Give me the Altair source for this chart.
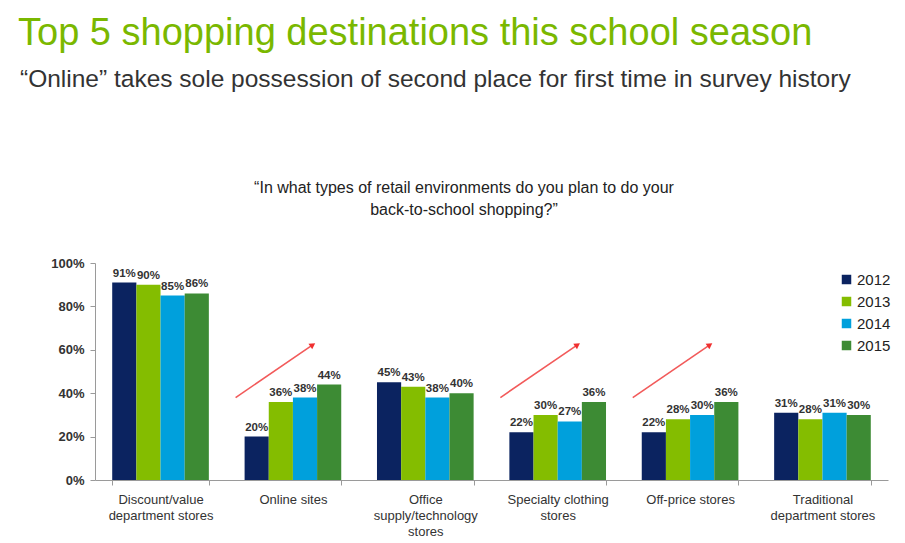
import altair as alt
import pandas as pd

categories = ["Discount/value|department stores", "Online sites", "Office|supply/technology|stores",
              "Specialty clothing|stores", "Off-price stores", "Traditional|department stores"]
years = ["2012", "2013", "2014", "2015"]
v2012 = [91, 20, 45, 22, 22, 31]
v2013 = [90, 36, 43, 30, 28, 28]
v2014 = [85, 38, 38, 27, 30, 31]
v2015 = [86, 44, 40, 36, 36, 30]
colors = ["#0b2360", "#84bd00", "#00a0dc", "#3d8b34"]

# trend arrows: category they sit in, start/end height in percent
arrow_cat = ["Online sites", "Specialty clothing|stores", "Off-price stores"]
arrow_y0 = [38, 38, 38]
arrow_y1 = [62, 62, 62]

rows = []
for i, c in enumerate(categories):
    for y, vals in zip(years, [v2012, v2013, v2014, v2015]):
        rows.append({"cat": c, "year": y, "val": vals[i], "lab": f"{vals[i]}%"})
df = pd.DataFrame(rows)
arr = pd.DataFrame({"cat": arrow_cat, "val": arrow_y0, "val2": arrow_y1})

W, H = 793, 217
FONT = "Liberation Sans"

x = alt.X("cat:N", sort=categories, title=None,
          scale=alt.Scale(domain=categories, paddingInner=0.27, paddingOuter=0.13),
          axis=alt.Axis(labelExpr="split(datum.label, '|')", labelAngle=0, labelFontSize=13,
                        labelColor="#333333", labelFont=FONT, labelPadding=8, labelLineHeight=16,
                        tickBand="extent", domainColor="#9a9a9a", tickColor="#9a9a9a", tickSize=5))
y = alt.Y("val:Q", title=None, scale=alt.Scale(domain=[0, 100]),
          axis=alt.Axis(values=[0, 20, 40, 60, 80, 100], labelExpr="datum.value + '%'", grid=False,
                        labelFontSize=13, labelColor="#333333", labelFont=FONT, labelFontWeight="bold",
                        domainColor="#9a9a9a", tickColor="#9a9a9a", tickSize=5, labelPadding=6))
xo = alt.XOffset("year:N", sort=years, scale=alt.Scale(paddingInner=0, paddingOuter=0))

bars = alt.Chart(df).mark_bar().encode(
    x=x, y=y, xOffset=xo,
    color=alt.Color("year:N", sort=years, scale=alt.Scale(domain=years, range=colors),
                    legend=alt.Legend(title=None, orient="none", legendX=744, legendY=9,
                                      symbolType="square", symbolSize=90, symbolStrokeWidth=0,
                                      labelFontSize=15, labelFont=FONT, labelColor="#222222",
                                      labelOffset=3, rowPadding=6, symbolOpacity=1)))

labels = alt.Chart(df).mark_text(dy=-9, fontSize=11.5, font=FONT, fontWeight="bold", color="#333333").encode(
    x=alt.X("cat:N", sort=categories), y="val:Q",
    xOffset=alt.XOffset("year:N", sort=years), text="lab:N")

arrows = alt.Chart(arr).mark_rule(color="#f25a5a", strokeWidth=1.6, xOffset=-9, x2Offset=-9).encode(
    x=alt.X("cat:N", sort=categories, bandPosition=0),
    x2=alt.X2("cat:N", bandPosition=0.79),
    y="val:Q", y2="val2:Q")
heads = alt.Chart(arr).mark_point(shape="triangle", filled=True, size=45, angle=56, color="#f03030",
                                  opacity=1, xOffset=-9).encode(
    x=alt.X("cat:N", sort=categories, bandPosition=0.79), y="val2:Q")

one = pd.DataFrame({"a": [0]})
title = alt.Chart(one).mark_text(text="Top 5 shopping destinations this school season", align="left",
                                 baseline="alphabetic", fontSize=38, font=FONT, color="#7ab800").encode(
    x=alt.value(-77), y=alt.value(-218))
subtitle = alt.Chart(one).mark_text(text="\u201cOnline\u201d takes sole possession of second place for first time in survey history",
                                    align="left", baseline="alphabetic", fontSize=24.5, font=FONT,
                                    color="#333333").encode(x=alt.value(-75), y=alt.value(-176))
question = alt.Chart(one).mark_text(text=["\u201cIn what types of retail environments do you plan to do your",
                                          "back-to-school shopping?\u201d"],
                                    align="center", baseline="alphabetic", fontSize=16, font=FONT,
                                    lineHeight=22, color="#222222").encode(x=alt.value(369), y=alt.value(-70))

chart = alt.layer(bars, labels, arrows, heads, title, subtitle, question).properties(
    width=W, height=H, autosize=alt.AutoSizeParams(type="none"), background="white",
    padding={"left": 95, "top": 263, "right": 17, "bottom": 63}
).configure_view(stroke=None)

chart.save("out.html", embed_options={"renderer": "svg", "actions": False})
